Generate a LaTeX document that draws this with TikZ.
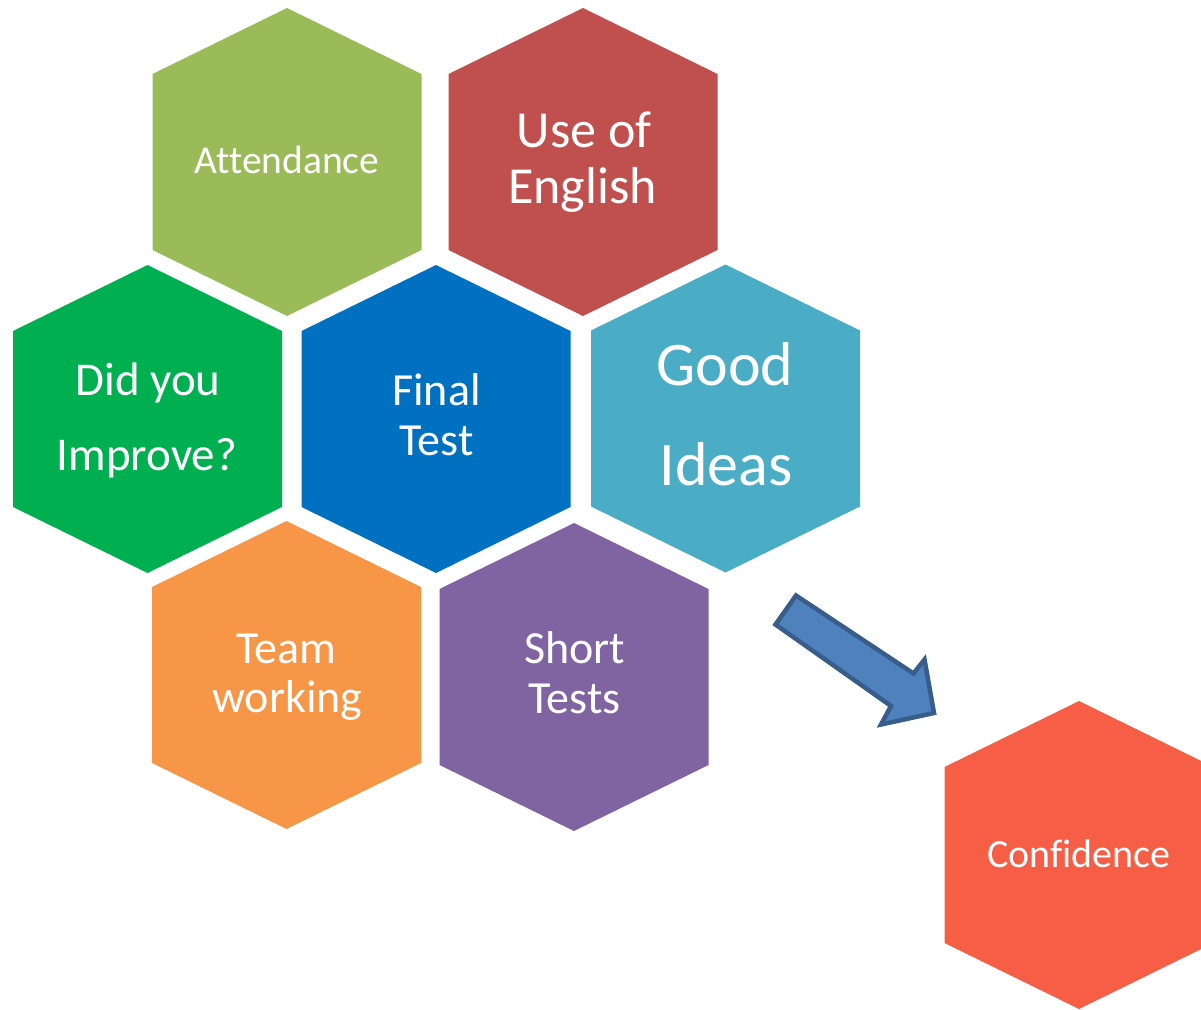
\documentclass[tikz,border=0pt]{standalone}
\usepackage{fontspec}
\setmainfont{Carlito}[Ligatures={NoCommon}]
\definecolor{cAtt}{HTML}{9BBB59}
\definecolor{cEng}{HTML}{C0504D}
\definecolor{cImp}{HTML}{00B050}
\definecolor{cFin}{HTML}{0070C0}
\definecolor{cIdea}{HTML}{4BACC6}
\definecolor{cTeam}{HTML}{F79646}
\definecolor{cShort}{HTML}{8064A2}
\definecolor{cConf}{HTML}{F65F46}
\definecolor{arrFill}{HTML}{4F81BD}
\definecolor{arrLine}{HTML}{385D8A}
\newcommand\hexcell[4]{%
  \fill[#4] (#2-134.5,#3-88) -- (#2,#3-154) -- (#2+134.5,#3-88) -- (#2+134.5,#3+88) -- (#2,#3+154) -- (#2-134.5,#3+88) -- cycle;
  \coordinate (#1) at (#2,#3);}
\newcommand\fs[1]{\fontsize{#1}{#1}\selectfont}
\tikzset{
  hextext/.style={text=white, inner sep=0pt, outer sep=0pt, anchor=base},
  blockarrow/.style={fill=arrFill, draw=arrLine, line width=4.5pt, line join=miter}
}
\begin{document}
\begin{tikzpicture}[x=1pt,y=-1pt]
\useasboundingbox (0,0) rectangle (1201,1009);
\clip (0,0) rectangle (1201,1009);
\hexcell{hAtt}{287}{162}{cAtt}
\hexcell{hEng}{583}{162}{cEng}
\hexcell{hImp}{147.5}{419}{cImp}
\hexcell{hFin}{436}{419}{cFin}
\hexcell{hIdea}{725.5}{418.5}{cIdea}
\hexcell{hTeam}{286.5}{675}{cTeam}
\hexcell{hShort}{574}{677}{cShort}
\hexcell{hConf}{1079}{855}{cConf}

\node[hextext, font=\fs{39.5}] (tAtt) at (287,173) {Attendance};
\node[hextext, font=\fs{52}] (tEng1) at (584,147) {Use of};
\node[hextext, font=\fs{52}] (tEng2) at (582.5,203) {English};
\node[hextext, font=\fs{62}] (tIdea1) at (725,385) {Good};
\node[hextext, font=\fs{62}] (tIdea2) at (726,485) {Ideas};
\node[hextext, font=\fs{47}] (tImp1) at (148,395) {Did you};
\node[hextext, font=\fs{47}] (tImp2) at (147,470) {Improve?};
\node[hextext, font=\fs{46}] (tFin1) at (436.5,405) {Final};
\node[hextext, font=\fs{46}] (tFin2) at (436.5,455) {Test};
\node[hextext, font=\fs{46}] (tTeam1) at (286,663) {Team};
\node[hextext, font=\fs{46}] (tTeam2) at (287.5,712) {working};
\node[hextext, font=\fs{46}] (tShort1) at (574.5,663) {Short};
\node[hextext, font=\fs{46}] (tShort2) at (574.5,713) {Tests};
\node[hextext, font=\fs{40}] (tConf) at (1079,867) {Confidence};

\draw[blockarrow] (796,595.5) -- (775.5,624.5) -- (891,706) -- (881,724.5) -- (934,713) -- (924.5,659.5) -- (913.5,673.5) -- cycle;
\end{tikzpicture}
\end{document}
